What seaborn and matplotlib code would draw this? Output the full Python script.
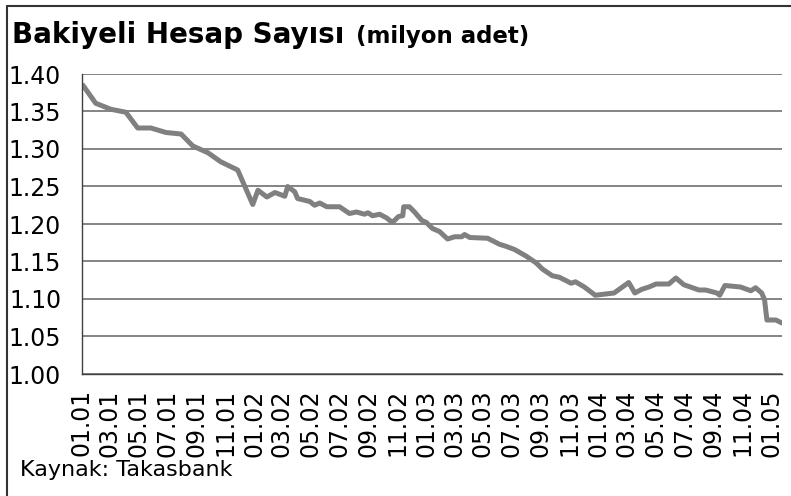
import pandas as pd
import numpy as np
from matplotlib import pyplot as plt
import matplotlib.dates as mdates
from matplotlib.lines import Line2D
import seaborn as sns

# weekly-ish account counts (million)
dates = [
    "2001-01-03", "2001-01-30", "2001-03-03", "2001-04-04", "2001-04-29",
    "2001-05-27", "2001-06-28", "2001-07-30", "2001-08-24", "2001-09-25",
    "2001-10-22", "2001-11-27", "2001-12-29", "2002-01-09", "2002-01-28",
    "2002-02-14", "2002-03-07", "2002-03-13", "2002-03-28", "2002-04-03",
    "2002-04-29", "2002-05-09", "2002-05-20", "2002-06-04", "2002-07-01",
    "2002-07-22", "2002-08-06", "2002-08-23", "2002-08-30", "2002-09-09",
    "2002-09-24", "2002-10-09", "2002-10-21", "2002-11-03", "2002-11-12",
    "2002-11-14", "2002-11-26", "2002-12-07", "2002-12-22", "2003-01-01",
    "2003-01-14", "2003-01-29", "2003-02-15", "2003-03-02", "2003-03-17",
    "2003-03-23", "2003-04-03", "2003-05-11", "2003-06-05", "2003-06-20",
    "2003-07-07", "2003-08-01", "2003-08-22", "2003-09-04", "2003-09-25",
    "2003-10-10", "2003-11-04", "2003-11-13", "2003-12-02", "2003-12-25",
    "2004-02-03", "2004-03-05", "2004-03-18", "2004-04-02", "2004-04-17",
    "2004-05-02", "2004-05-29", "2004-06-13", "2004-06-30", "2004-08-01",
    "2004-08-15", "2004-09-08", "2004-09-14", "2004-09-25", "2004-10-28",
    "2004-11-19", "2004-11-29", "2004-12-12", "2004-12-18", "2004-12-23",
    "2005-01-11", "2005-01-24",
]
accounts = [
    1.385, 1.361, 1.353, 1.349, 1.328,
    1.328, 1.322, 1.320, 1.304, 1.295,
    1.283, 1.272, 1.226, 1.245, 1.236,
    1.242, 1.237, 1.250, 1.243, 1.234,
    1.230, 1.225, 1.228, 1.223, 1.223,
    1.214, 1.216, 1.213, 1.215, 1.211,
    1.213, 1.208, 1.202, 1.210, 1.211,
    1.223, 1.223, 1.216, 1.205, 1.202,
    1.194, 1.190, 1.180, 1.183, 1.183,
    1.186, 1.182, 1.181, 1.173, 1.170,
    1.166, 1.157, 1.148, 1.140, 1.131,
    1.129, 1.121, 1.123, 1.116, 1.105,
    1.108, 1.122, 1.108, 1.113, 1.116,
    1.120, 1.120, 1.128, 1.119, 1.112,
    1.112, 1.108, 1.105, 1.118, 1.116,
    1.111, 1.115, 1.108, 1.099, 1.072,
    1.072, 1.068,
]
y_ticks = [1.00, 1.05, 1.10, 1.15, 1.20, 1.25, 1.30, 1.35, 1.40]

df = pd.DataFrame({"date": pd.to_datetime(dates), "value": accounts})

sns.set_style("white")
plt.rcParams["font.family"] = ["DejaVu Sans"]
plt.rcParams["text.color"] = "black"
plt.rcParams["xtick.color"] = "black"
plt.rcParams["ytick.color"] = "black"

fig = plt.figure(figsize=(7.91, 4.96), dpi=100)
ax = fig.add_axes([82 / 791, 1 - 374 / 496, 700 / 791, 300 / 496])

sns.lineplot(data=df, x="date", y="value", ax=ax, color="#808080", linewidth=3.6)

ax.set_ylim(1.0, 1.4)
ax.set_yticks(y_ticks)
ax.set_yticklabels([f"{v:.2f}" for v in y_ticks], fontsize=17)
ax.set_xlim(pd.Timestamp("2001-01-01"), pd.Timestamp("2005-01-24"))
ax.xaxis.set_major_locator(mdates.MonthLocator(bymonth=[1, 3, 5, 7, 9, 11]))
ax.xaxis.set_major_formatter(mdates.DateFormatter("%m.%y"))
ax.tick_params(axis="x", labelrotation=90, labelsize=17, length=7, width=1,
               color="#404040", labelcolor="black", pad=4)
ax.tick_params(axis="y", length=7, width=1, color="#404040", labelcolor="black", pad=8)
ax.set_xlabel("")
ax.set_ylabel("")

ax.grid(axis="y", color="#707070", linewidth=1.2)
ax.grid(axis="x", visible=False)
for side in ["top", "right"]:
    ax.spines[side].set_visible(False)
for side in ["left", "bottom"]:
    ax.spines[side].set_color("#404040")
    ax.spines[side].set_linewidth(1)

# frame around the chart
fig.add_artist(Line2D([7 / 791, 7 / 791], [0, 1 - 6 / 496], transform=fig.transFigure,
                      color="#333333", linewidth=1.5))
fig.add_artist(Line2D([7 / 791, 1], [1 - 6 / 496, 1 - 6 / 496], transform=fig.transFigure,
                      color="#333333", linewidth=1.5))

fig.text(12 / 791, 1 - 35 / 496, "Bakiyeli Hesap Sayısı", fontsize=20, fontweight="bold",
         va="center", ha="left")
fig.text(356 / 791, 1 - 37 / 496, "(milyon adet)", fontsize=16.5, fontweight="bold",
         va="center", ha="left")
fig.text(20 / 791, 1 - 470 / 496, "Kaynak: Takasbank", fontsize=16, va="center", ha="left")

plt.savefig("out.png", dpi=100)
